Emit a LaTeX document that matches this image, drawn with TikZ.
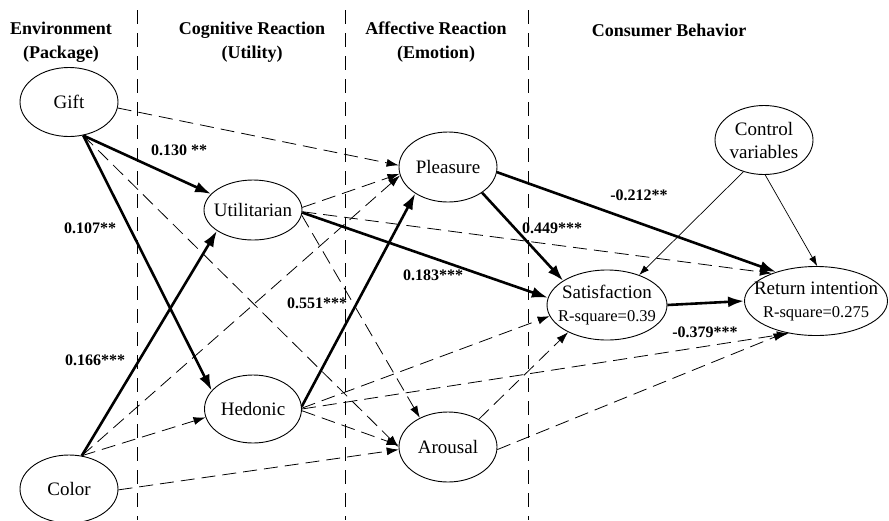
\documentclass[tikz,border=0pt]{standalone}
\usepackage{fontspec}
\setmainfont{Liberation Serif}
\usetikzlibrary{shapes.geometric,arrows.meta}
\begin{document}
\begin{tikzpicture}[x=1pt,y=-1pt,
  ell/.style={draw,ellipse,line width=0.9pt,inner sep=0pt,minimum width=98pt,minimum height=69pt},
  lab/.style={font=\fontsize{19}{23}\selectfont,align=center,inner sep=0pt},
  hdr/.style={font=\fontsize{18}{24}\selectfont\bfseries,align=center,inner sep=0pt},
  coef/.style={font=\fontsize{16}{19}\selectfont\bfseries,inner sep=0pt},
  divider/.style={line width=0.8pt,dash pattern=on 14pt off 9pt},
  strong/.style={line width=2.6pt,-{Latex[length=16pt,width=11pt]}},
  weak/.style={line width=0.8pt,dash pattern=on 14pt off 7pt,-{Latex[length=12pt,width=8pt]}},
  ctrl/.style={line width=0.7pt,-{Latex[length=10pt,width=7pt]}}
]
\useasboundingbox (0,0) rectangle (889,520);

% column dividers
\draw[divider] (137,10) -- (137,520);
\draw[divider] (345,10) -- (345,520);
\draw[divider] (528,10) -- (528,520);

% headers
\node[hdr] (h1) at (61,42) {Environment\\(Package)};
\node[hdr] (h2) at (252,42) {Cognitive Reaction\\(Utility)};
\node[hdr] (h3) at (436,42) {Affective Reaction\\(Emotion)};
\node[hdr] (h4) at (669,30) {Consumer Behavior};

% ellipses
\node[ell] (gift) at (69,102) {};
\node[ell,minimum height=60pt] (util) at (253,210) {};
\node[ell,minimum height=70pt] (ple) at (448,167) {};
\node[ell,minimum width=97pt,minimum height=68pt] (hed) at (253,409) {};
\node[ell,minimum height=70pt] (aro) at (448,447) {};
\node[ell,minimum height=68pt] (col) at (69,489) {};
\node[ell,minimum width=120pt,minimum height=70pt] (sat) at (607,305) {};
\node[ell,minimum width=143pt] (ret) at (816,301) {};
\node[ell] (ctl) at (764,140) {};

% texts
\node[lab] (giftT) at (gift) {Gift};
\node[lab] (utilT) at (util) {Utilitarian};
\node[lab] (pleT) at (ple) {Pleasure};
\node[lab] (hedT) at (hed) {Hedonic};
\node[lab] (aroT) at (aro) {Arousal};
\node[lab] (colT) at (col) {Color};
\node[lab] (satT) at (sat) {Satisfaction\\\fontsize{16.5}{20}\selectfont R-square=0.39};
\node[lab] (retT) at (ret) {Return intention\\\fontsize{16.5}{20}\selectfont R-square=0.275};
\node[lab] (ctlT) at (ctl) {Control\\variables};

% connectors
\draw[weak] (gift.-7) -- (ple.178);
\draw[strong] (gift.-67) -- (util.159);
\draw[strong] (gift.-67) -- (hed.156);
\draw[weak] (gift.-67) -- (aro.180);
\draw[strong] (col.69) -- (util.210);
\draw[weak] (col.69) -- (ple.190);
\draw[weak] (col.69) -- (hed.190);
\draw[weak] (col.-1) -- (aro.183);
\draw[weak] (util.3) -- (ple.188);
\draw[strong] (util.-3) -- (sat.173);
\draw[weak] (util.-2) -- (ret.148);
\draw[weak] (util.-6) -- (aro.134);
\draw[strong] (hed.3) -- (ple.219);
\draw[weak] (hed.1) -- (sat.191);
\draw[weak] (hed.0) -- (ret.230);
\draw[weak] (hed.-2) -- (aro.178);
\draw[strong] (ple.-37) -- (sat.151);
\draw[strong] (ple.-6) -- (ret.144);
\draw[weak] (aro.42) -- (sat.215);
\draw[weak] (aro.-3) -- (ret.226);
\draw[strong] (sat.east) -- (ret.west);
\draw[ctrl] (ctl.237) -- (sat.43);
\draw[ctrl] (ctl.-88) -- (ret.88);

% coefficients
\node[coef] (c1) at (179,150) {0.130 **};
\node[coef] (c2) at (90,228) {0.107**};
\node[coef] (c3) at (95,360) {0.166***};
\node[coef] (c4) at (317,303) {0.551***};
\node[coef] (c5) at (433,275) {0.183***};
\node[coef] (c6) at (552,228) {0.449***};
\node[coef] (c7) at (639,195) {-0.212**};
\node[coef] (c8) at (705,332) {-0.379***};
\end{tikzpicture}
\end{document}
